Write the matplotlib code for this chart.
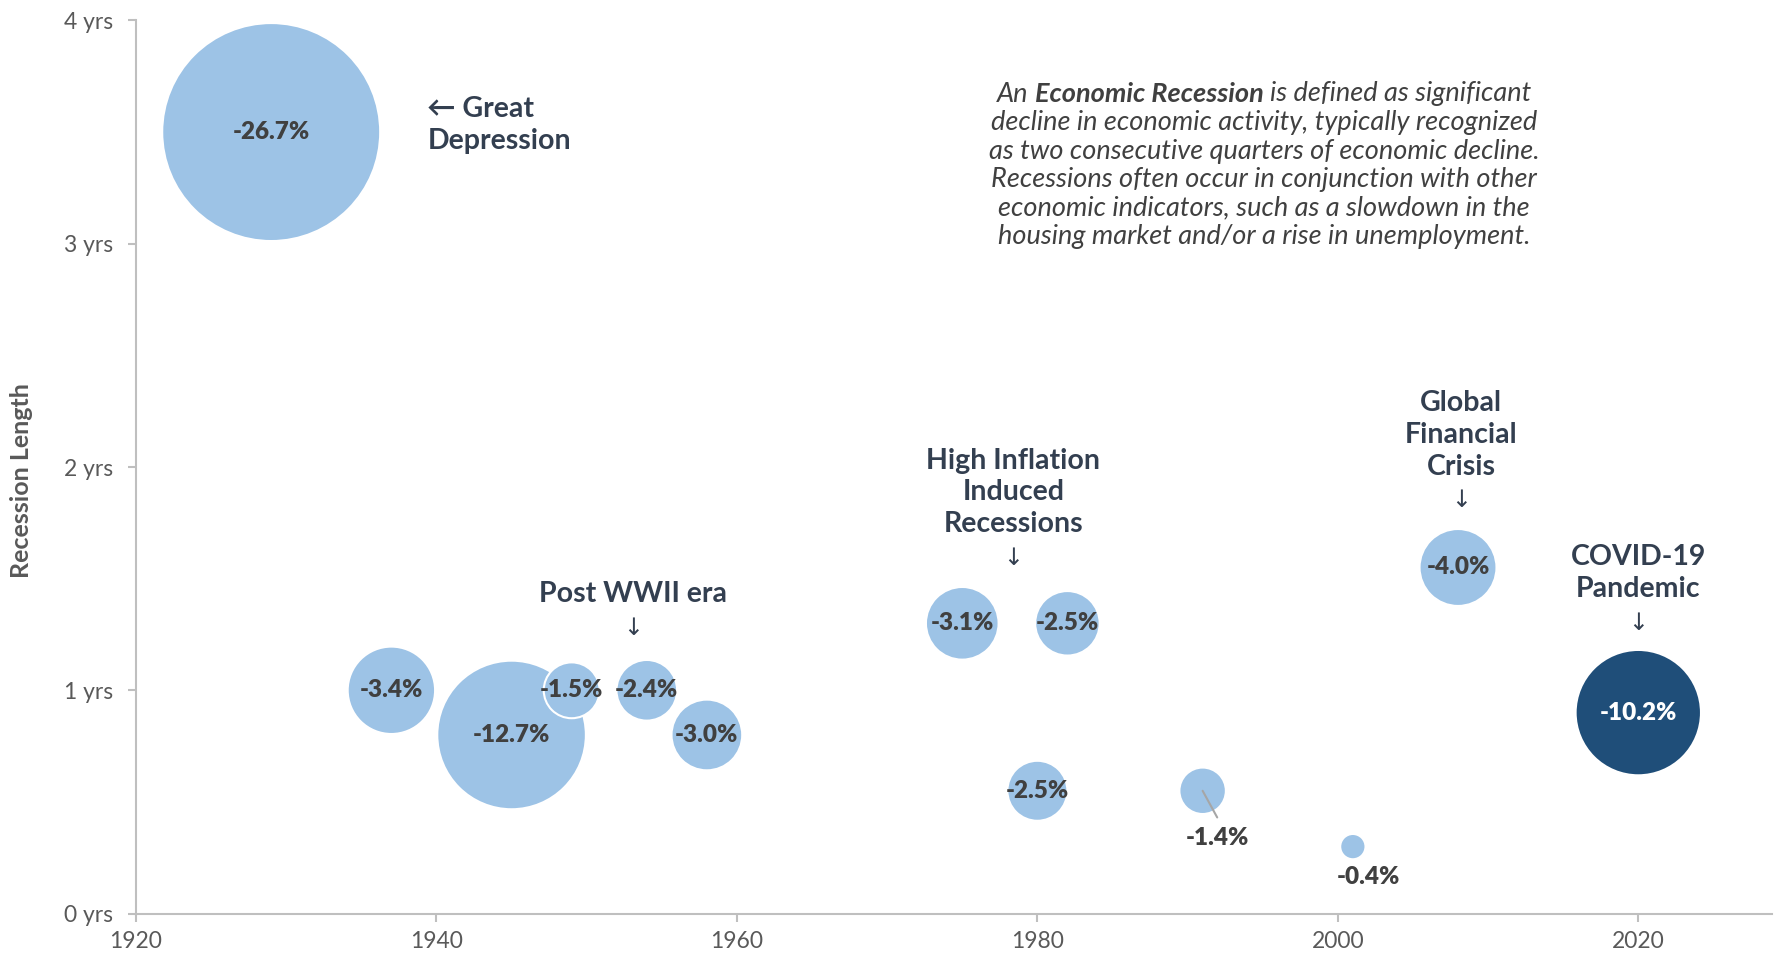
import matplotlib
matplotlib.use("Agg")
import matplotlib.pyplot as plt

# ---------------- data ----------------
years = [1929, 1937, 1945, 1949, 1954, 1958, 1975, 1980, 1982, 1991, 2001, 2008, 2020]
recession_length = [3.5, 1.0, 0.8, 1.0, 1.0, 0.8, 1.3, 0.55, 1.3, 0.55, 0.3, 1.55, 0.9]
gdp_decline = [-26.7, -3.4, -12.7, -1.5, -2.4, -3.0, -3.1, -2.5, -2.5, -1.4, -0.4, -4.0, -10.2]
bubble_size = [118.8, 19.1, 55.2, 7.8, 9.2, 12.5, 13.2, 9.0, 10.4, 5.4, 1.6, 14.8, 39.3]
x_ticks = [1920, 1940, 1960, 1980, 2000, 2020]
y_ticks = [0, 1, 2, 3, 4]
y_tick_labels = ["0 yrs", "1 yrs", "2 yrs", "3 yrs", "4 yrs"]

annotations = [
    ("\u2190 Great\nDepression", 1939.4, 3.533, "left"),
    ("Post WWII era", 1953.1, 1.43, "center"),
    ("High Inflation\nInduced\nRecessions", 1978.4, 1.886, "center"),
    ("Global\nFinancial\nCrisis", 2008.2, 2.145, "center"),
    ("COVID-19\nPandemic", 2020.0, 1.526, "center"),
]
arrows_down = [(1953.1, 1.279), (1978.4, 1.592), (2008.2, 1.851), (2020.0, 1.303)]

para_lines = [
    [("An ", "normal"), ("Economic Recession", "bold"), (" is defined as significant", "normal")],
    [("decline in economic activity, typically recognized", "normal")],
    [("as two consecutive quarters of economic decline.", "normal")],
    [("Recessions often occur in conjunction with other", "normal")],
    [("economic indicators, such as a slowdown in the", "normal")],
    [("housing market and/or a rise in unemployment.", "normal")],
]

# ---------------- style ----------------
LIGHT = "#9DC3E6"
DARK = "#1F4E79"
TXT = "#404040"
NAVY = "#333F50"
GRAY = "#595959"
SPINE = "#BFBFBF"
FAM = ["Lato", "DejaVu Sans"]

W, H = 1775, 958
fig = plt.figure(figsize=(W / 100, H / 100), dpi=100)
ax = fig.add_axes([136 / W, 1 - 913.6 / H, (1772 - 136) / W, (913.6 - 20.4) / H])
ax.set_xlim(1920, 2028.9)
ax.set_ylim(0, 4)

colors = [DARK if y == 2020 else LIGHT for y in years]
sizes = [b * 207.36 for b in bubble_size]
ax.scatter(years, recession_length, s=sizes, c=colors, edgecolors="white",
           linewidths=1.5, zorder=3)

# value labels
outside = {1991: (10.5, -34.0), 2001: (11.2, -21.6)}
leader = {1991: (10.5, -19.2)}
LSIZE = 17.5
for x, y, v, c in zip(years, recession_length, gdp_decline, colors):
    label = f"{v:.1f}%"
    tc = "white" if c == DARK else TXT
    if x in outside:
        ax.annotate(label, xy=(x, y), xytext=outside[x], textcoords="offset points",
                    ha="center", va="center", fontsize=LSIZE, fontweight="heavy",
                    color=tc, family=FAM, zorder=5)
    else:
        ax.text(x, y, label, ha="center", va="center", fontsize=LSIZE,
                fontweight="heavy", color=tc, family=FAM, zorder=5)
    if x in leader:
        ax.annotate("", xy=(x, y), xytext=leader[x], textcoords="offset points",
                    arrowprops=dict(arrowstyle="-", color="#A6A6A6", lw=1.5,
                                    shrinkA=0, shrinkB=0), zorder=4)

for txt, x, y, ha in annotations:
    ax.text(x, y, txt, ha=ha, va="center", multialignment=ha, fontsize=20.5,
            fontweight="bold", color=NAVY, family=FAM, linespacing=1.28)
for x, y in arrows_down:
    ax.text(x, y, "\u2193", ha="center", va="center", fontsize=17,
            color=NAVY, family=["DejaVu Sans"])

# spines & ticks
for s in ["top", "right"]:
    ax.spines[s].set_visible(False)
for s in ["left", "bottom"]:
    ax.spines[s].set_color(SPINE)
    ax.spines[s].set_linewidth(1.5)
ax.set_xticks(x_ticks)
ax.set_xticklabels([str(t) for t in x_ticks])
ax.set_yticks(y_ticks)
ax.set_yticklabels(y_tick_labels)
ax.tick_params(axis="both", direction="out", length=5.8, width=1.5, color=SPINE,
               labelcolor=GRAY, labelsize=16.5)
ax.tick_params(axis="y", pad=10.5)
ax.tick_params(axis="x", pad=7)
for lab in ax.get_xticklabels() + ax.get_yticklabels():
    lab.set_family(FAM)
    lab.set_fontweight("normal")

fig.text(22 / W, 1 - 481 / H, "Recession Length", rotation=90, ha="center",
         va="center", fontsize=18, fontweight="bold", color=GRAY, family=FAM)

# paragraph with mixed weights
renderer = fig.canvas.get_renderer()
cx = 1264
y0 = 94
dy = 28.5
PSIZE = 19.5

def measure(s, weight):
    t = fig.text(0, 0, s, fontsize=PSIZE, style="italic", fontweight=weight, family=FAM)
    w = t.get_window_extent(renderer).width
    t.remove()
    return w

space_w = measure("a a", "normal") - measure("aa", "normal")
for i, line in enumerate(para_lines):
    pieces = []
    for s, wgt in line:
        lead = len(s) - len(s.lstrip(" "))
        trail = len(s) - len(s.rstrip(" "))
        core = s.strip(" ")
        pieces.append((core, wgt, lead, trail, measure(core, wgt)))
    total = sum(p[4] + (p[2] + p[3]) * space_w for p in pieces)
    xpos = cx - total / 2
    ypix = H - (y0 + i * dy)
    for core, wgt, lead, trail, w in pieces:
        xpos += lead * space_w
        fig.text(xpos / W, ypix / H, core, ha="left", va="center", fontsize=PSIZE,
                 style="italic", fontweight=wgt, color=TXT, family=FAM)
        xpos += w + trail * space_w

fig.savefig("out.png", dpi=100)
